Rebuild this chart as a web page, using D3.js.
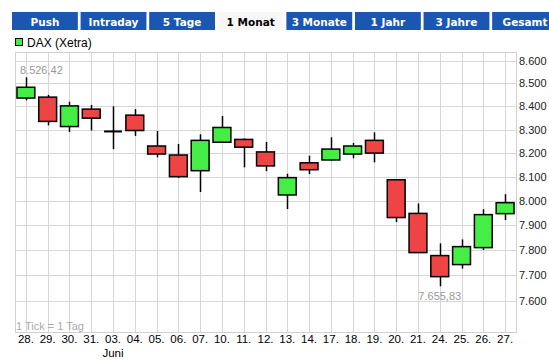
<!DOCTYPE html>
<html><head><meta charset="utf-8">
<script src="https://cdn.jsdelivr.net/npm/d3@7"></script>
<style>
html,body{margin:0;padding:0;background:#fff;}
svg{display:block;}
</style></head>
<body>
<svg id="c" width="549" height="360"></svg>
<script>
const days = ["28.","29.","30.","31.","03.","04.","05.","06.","07.","10.","11.","12.","13.","14.","17.","18.","19.","20.","21.","24.","25.","26.","27."];
const openV  = [8436,8440,8313,8388,8292,8362,8230,8192,8126,8246,8258,8205,8025,8159,8171,8196,8254,8088,7949,7778,7742,7810,7948];
const highV  = [8526.42,8450,8420,8406,8400,8388,8294,8239,8280,8358,8262,8247,8113,8189,8267,8243,8288,8090,7990,7827,7843,7966,8028];
const lowV   = [8426,8318,8290,8296,8217,8273,8182,8096,8037,8244,8140,8124,7967,8112,8168,8178,8161,7914,7788,7655.83,7726,7800,7922];
const closeV = [8483,8335,8402,8349,8292,8296,8196,8101,8254,8309,8225,8146,8097,8130,8217,8230,8200,7932,7790,7694,7814,7944,7993];
const yTicks = [7600,7700,7800,7900,8000,8100,8200,8300,8400,8500,8600];
const buttons = ["Push","Intraday","5 Tage","1 Monat","3 Monate","1 Jahr","3 Jahre","Gesamt"];
const activeButton = "1 Monat";
const seriesName = "DAX (Xetra)";
const monthLabel = {day:"03.", text:"Juni"};
const maxLabel = "8.526,42", minLabel = "7.655,83";

const svg = d3.select("#c");
const L = 15, R = 516, T = 52, B = 332;

// buttons
const bx = d3.scaleBand().domain(buttons).range([12, 558]).paddingInner(0.04).paddingOuter(0);
const bg = svg.append("g");
buttons.forEach(b => {
  const act = b === activeButton;
  bg.append("rect").attr("x", bx(b)).attr("y", 12).attr("width", bx.bandwidth()).attr("height", 18)
    .attr("fill", act ? "#f7f7f7" : "#1d55b3");
  bg.append("text").attr("x", bx(b) + bx.bandwidth()/2).attr("y", 25.5).attr("text-anchor","middle")
    .attr("font-family","DejaVu Sans, Verdana, sans-serif").attr("font-weight","bold").attr("font-size","10.5px")
    .attr("fill", act ? "#000" : "#fff").text(b);
});

// legend
svg.append("rect").attr("x",15.5).attr("y",38.5).attr("width",7).attr("height",7).attr("fill","#44ee44").attr("stroke","#000");
svg.append("text").attr("x",27).attr("y",46.5).attr("font-family","Liberation Sans, Arial, sans-serif").attr("font-size","12px").attr("fill","#000").text(seriesName);

const x = d3.scaleBand().domain(days).range([L, R]).paddingInner(0.18).paddingOuter(0.09);
const y = d3.scaleLog().domain([7600, 8600]).range([300.5, 60.7]);

// grid
const g = svg.append("g");
g.selectAll("line.h").data(yTicks).join("line")
  .attr("x1", L).attr("x2", R).attr("y1", d => Math.round(y(d))+0.5).attr("y2", d => Math.round(y(d))+0.5)
  .attr("stroke","#d6d6d6");
g.selectAll("line.v").data(days).join("line")
  .attr("x1", d => Math.round(x(d)+x.bandwidth()/2)+0.5).attr("x2", d => Math.round(x(d)+x.bandwidth()/2)+0.5)
  .attr("y1", T).attr("y2", B).attr("stroke","#d6d6d6");
g.append("rect").attr("x",L+0.5).attr("y",T+0.5).attr("width",R-L).attr("height",B-T)
  .attr("fill","none").attr("stroke","#d0d0d0");

// y axis labels
const fmt = d => d3.format(",")(d).replace(/,/g,".");
svg.selectAll("text.yl").data(yTicks).join("text")
  .attr("x", 519).attr("y", d => y(d)+4).attr("font-family","Liberation Sans, Arial, sans-serif")
  .attr("font-size","11px").attr("fill","#222").text(fmt);

// x labels
svg.selectAll("text.xl").data(days).join("text")
  .attr("x", d => x(d)+x.bandwidth()/2).attr("y", 343).attr("text-anchor","middle")
  .attr("font-family","Liberation Sans, Arial, sans-serif").attr("font-size","11.5px").attr("fill","#000").text(d=>d);
svg.append("text").attr("x", x(monthLabel.day)+x.bandwidth()/2).attr("y",357).attr("text-anchor","middle")
  .attr("font-family","Liberation Sans, Arial, sans-serif").attr("font-size","11.5px").attr("fill","#000").text(monthLabel.text);

svg.append("text").attr("x",16).attr("y",330).attr("font-family","Liberation Sans, Arial, sans-serif")
  .attr("font-size","11px").attr("fill","#aaa").text("1 Tick = 1 Tag");

// candles
const data = days.map((d,i)=>({d, o:openV[i], h:highV[i], l:lowV[i], c:closeV[i]}));
const cg = svg.append("g");
data.forEach(k => {
  const cx = Math.round(x(k.d)+x.bandwidth()/2)+0.5;
  cg.append("line").attr("x1",cx).attr("x2",cx).attr("y1",y(k.h)).attr("y2",y(k.l)).attr("stroke","#000").attr("stroke-width",1.5);
  if (k.o === k.c) {
    cg.append("line").attr("x1",x(k.d)).attr("x2",x(k.d)+x.bandwidth()).attr("y1",y(k.o)).attr("y2",y(k.o)).attr("stroke","#000").attr("stroke-width",2);
  } else {
    const top = y(Math.max(k.o,k.c)), bot = y(Math.min(k.o,k.c));
    cg.append("rect").attr("x",x(k.d)).attr("y",top).attr("width",x.bandwidth()).attr("height",bot-top)
      .attr("fill", k.c > k.o ? "#44ee44" : "#ee4444").attr("stroke","#000").attr("stroke-width",1.5);
  }
});

// annotations
const maxI = d3.maxIndex(highV), minI = d3.minIndex(lowV);
svg.append("text").attr("x", x(days[maxI])+3).attr("y", y(highV[maxI])-3)
  .attr("font-family","Liberation Sans, Arial, sans-serif").attr("font-size","11px").attr("fill","#999").text(maxLabel);
svg.append("text").attr("x", x(days[minI])+x.bandwidth()/2).attr("y", y(lowV[minI])+14).attr("text-anchor","middle")
  .attr("font-family","Liberation Sans, Arial, sans-serif").attr("font-size","11px").attr("fill","#999").text(minLabel);
</script>
</body></html>
